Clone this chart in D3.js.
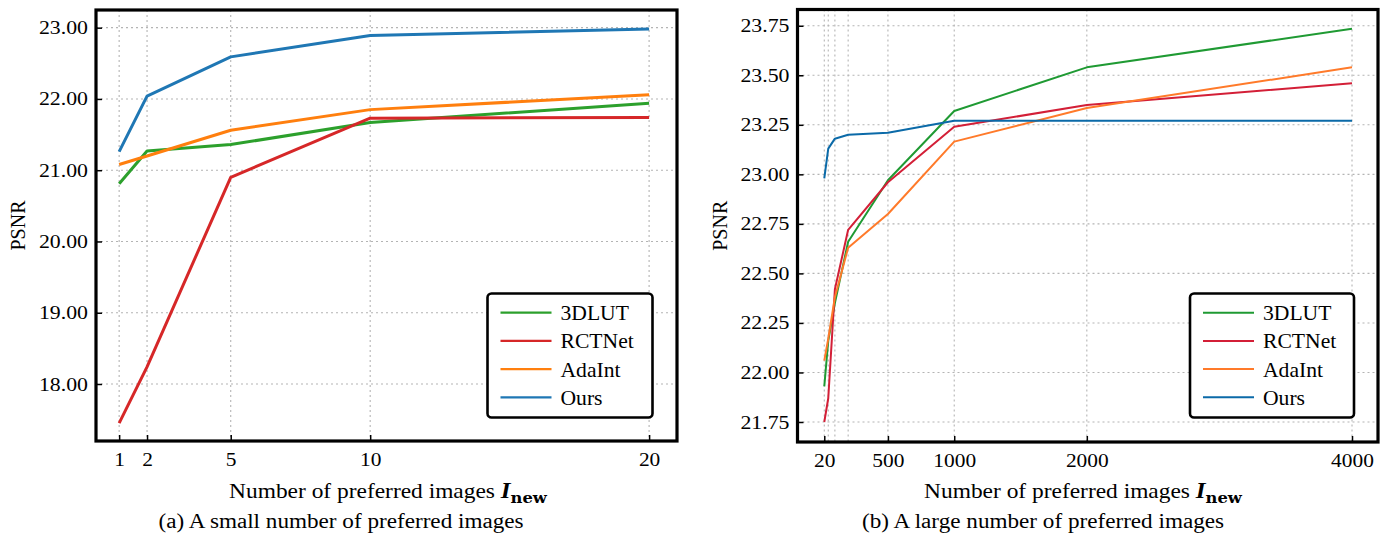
<!DOCTYPE html>
<html>
<head>
  <meta charset="utf-8">
  <script src="https://cdn.jsdelivr.net/npm/d3@7"></script>
  <style>
    body { margin: 0; background: #fff; }
    svg text { font-family: "Liberation Serif", "DejaVu Serif", serif; fill: #000; }
  </style>
</head>
<body>
<svg width="1395" height="536"></svg>
<script>
  // series names and colours
  var seriesNames = ["3DLUT", "RCTNet", "AdaInt", "Ours"];
  var colorsA = ["#2ca02c", "#d62728", "#ff7f0e", "#1f77b4"];
  var colorsB = ["#1f9a33", "#d31f37", "#ff7a2a", "#0b6aa8"];

  // (a) small number of preferred images
  var smallN = [1, 2, 5, 10, 20];
  var small3DLUT = [20.81, 21.27, 21.36, 21.67, 21.94];
  var smallRCTNet = [17.45, 18.24, 20.90, 21.73, 21.74];
  var smallAdaInt = [21.08, 21.20, 21.56, 21.85, 22.06];
  var smallOurs = [21.26, 22.04, 22.59, 22.89, 22.98];
  var smallYTicks = [18, 19, 20, 21, 22, 23];

  // (b) large number of preferred images
  var largeN = [20, 50, 100, 200, 500, 1000, 2000, 4000];
  var large3DLUT = [21.93, 22.16, 22.35, 22.66, 22.97, 23.32, 23.54, 23.735];
  var largeRCTNet = [21.75, 21.87, 22.42, 22.72, 22.96, 23.24, 23.35, 23.46];
  var largeAdaInt = [22.06, 22.17, 22.38, 22.63, 22.80, 23.165, 23.335, 23.54];
  var largeOurs = [22.98, 23.13, 23.18, 23.20, 23.21, 23.27, 23.27, 23.27];
  var largeXTicks = [20, 500, 1000, 2000, 4000];
  var largeYTicks = [21.75, 22.0, 22.25, 22.5, 22.75, 23.0, 23.25, 23.5, 23.75];

  var svg = d3.select("svg");

  // text that is a bit wider than plain Times, like the source figure
  function wideText(parent, x, y, size, sx, anchor) {
    return parent.append("g")
      .attr("transform", "translate(" + x + "," + y + ") scale(" + sx + ",1)")
      .append("text")
      .attr("text-anchor", anchor)
      .attr("font-size", size + "px");
  }

  function drawPanel(cfg) {
    var L = cfg.left, R = cfg.right, T = cfg.top, B = cfg.bottom;
    var x = d3.scaleLinear().domain(cfg.xDomain).range([L, R]);
    var y = d3.scaleLinear().domain(cfg.yDomain).range([B, T]);
    var g = svg.append("g");

    // grid
    g.append("g").selectAll("line")
      .data(cfg.xGrid).enter().append("line")
      .attr("x1", function(d) { return x(d); }).attr("x2", function(d) { return x(d); })
      .attr("y1", T).attr("y2", B)
      .attr("stroke", "#b4b4b4").attr("stroke-width", 1.1)
      .attr("stroke-dasharray", "2,3");
    g.append("g").selectAll("line")
      .data(cfg.yTicks).enter().append("line")
      .attr("y1", function(d) { return y(d); }).attr("y2", function(d) { return y(d); })
      .attr("x1", L).attr("x2", R)
      .attr("stroke", "#b4b4b4").attr("stroke-width", 1.1)
      .attr("stroke-dasharray", "2,3");

    // lines
    var line = d3.line()
      .x(function(d) { return x(d[0]); })
      .y(function(d) { return y(d[1]); });
    cfg.series.forEach(function(vals, i) {
      g.append("path")
        .datum(cfg.xs.map(function(v, j) { return [v, vals[j]]; }))
        .attr("d", line)
        .attr("fill", "none")
        .attr("stroke", cfg.colors[i])
        .attr("stroke-width", cfg.lineWidth)
        .attr("stroke-linejoin", "round");
    });

    // axes, ticks pointing inward
    var xAxis = g.append("g")
      .attr("transform", "translate(0," + B + ")")
      .call(d3.axisBottom(x).tickValues(cfg.xTicks).tickSizeInner(-6).tickSizeOuter(0).tickPadding(12)
        .tickFormat(function(d) { return d; }));
    var yAxis = g.append("g")
      .attr("transform", "translate(" + L + ",0)")
      .call(d3.axisLeft(y).tickValues(cfg.yTicks).tickSizeInner(-6).tickSizeOuter(0).tickPadding(8)
        .tickFormat(d3.format(".2f")));
    [xAxis, yAxis].forEach(function(a) {
      a.select(".domain").remove();
      a.selectAll(".tick line").attr("stroke", "#000").attr("stroke-width", 1.5);
      a.selectAll(".tick text").attr("font-size", "18.8px");
    });
    xAxis.selectAll(".tick text").attr("transform", "scale(1.14,1)");
    yAxis.selectAll(".tick text").attr("transform", "translate(-8,0) scale(1.16,1) translate(8,0)");

    // frame
    g.append("rect")
      .attr("x", L).attr("y", T)
      .attr("width", R - L).attr("height", B - T)
      .attr("fill", "none").attr("stroke", "#000").attr("stroke-width", 3.2);

    // y label
    g.append("text")
      .attr("transform", "translate(" + cfg.yLabelX + "," + (T + B) / 2 + ") rotate(-90)")
      .attr("text-anchor", "middle")
      .attr("font-size", "20px")
      .text("PSNR");

    // x label with math subscript
    var xl = wideText(g, cfg.xLabelX, 498, 21.5, 1.09, "middle");
    xl.append("tspan").text("Number of preferred images ");
    xl.append("tspan").attr("font-style", "italic").attr("font-weight", "bold")
      .attr("font-size", "23px").text("I");
    xl.append("tspan").attr("font-weight", "bold").attr("font-size", "15px")
      .attr("font-family", "DejaVu Serif").attr("dy", 5).text("new");

    // caption
    wideText(g, cfg.captionX, 528, 20.5, 1.13, "middle").text(cfg.caption);

    // legend
    var lg = g.append("g");
    lg.append("rect")
      .attr("x", cfg.legend[0]).attr("y", 293.5)
      .attr("width", cfg.legend[1]).attr("height", 124)
      .attr("rx", 4).attr("ry", 4)
      .attr("fill", "#fff").attr("stroke", "#000").attr("stroke-width", 2.6);
    seriesNames.forEach(function(name, i) {
      var yy = 312.7 + i * 28.2;
      lg.append("line")
        .attr("x1", cfg.legend[0] + 13).attr("x2", cfg.legend[0] + 64)
        .attr("y1", yy).attr("y2", yy)
        .attr("stroke", cfg.colors[i]).attr("stroke-width", cfg.legendLineWidth);
      wideText(lg, cfg.legend[0] + 73, yy + 7.5, 21, 1.03, "start").text(name);
    });
  }

  drawPanel({
    left: 96, right: 677, top: 10, bottom: 441,
    xDomain: [0.17, 21.0], yDomain: [17.2, 23.248],
    xs: smallN, xTicks: smallN, xGrid: smallN, yTicks: smallYTicks,
    series: [small3DLUT, smallRCTNet, smallAdaInt, smallOurs],
    colors: colorsA, lineWidth: 3, legendLineWidth: 2.2,
    yLabelX: 25, xLabelX: 388, captionX: 341,
    caption: "(a) A small number of preferred images",
    legend: [487.5, 165]
  });

  drawPanel({
    left: 797.5, right: 1378, top: 9.5, bottom: 442,
    xDomain: [-182, 4196], yDomain: [21.649, 23.832],
    xs: largeN, xTicks: largeXTicks, xGrid: largeN, yTicks: largeYTicks,
    series: [large3DLUT, largeRCTNet, largeAdaInt, largeOurs],
    colors: colorsB, lineWidth: 2, legendLineWidth: 2,
    yLabelX: 727, xLabelX: 1083, captionX: 1043,
    caption: "(b) A large number of preferred images",
    legend: [1190, 164]
  });
</script>
</body>
</html>
